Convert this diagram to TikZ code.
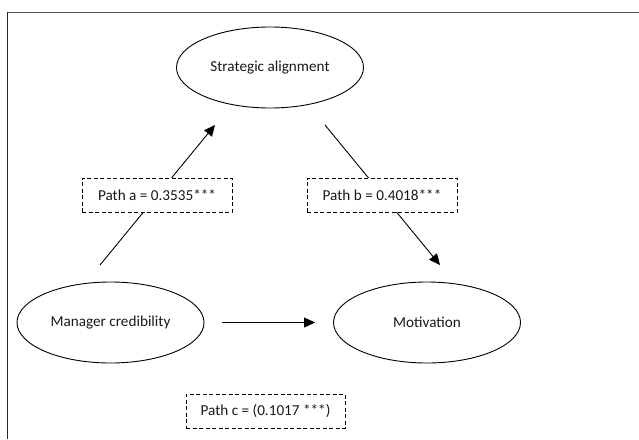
\documentclass[tikz,border=0pt]{standalone}
\usepackage{fontspec}
\setmainfont{Carlito}
\usetikzlibrary{shapes.geometric,arrows.meta}
\begin{document}
\begin{tikzpicture}[x=1pt,y=-1pt,
  ell/.style={draw,line width=0.9pt,ellipse,minimum width=187pt,minimum height=81pt,inner sep=0pt,font=\fontsize{15.2}{17}\selectfont,text=black!90},
  lbl/.style={draw,dashed,dash pattern=on 4pt off 2.5pt,line width=0.9pt,fill=white,minimum width=150pt,minimum height=34pt,inner sep=0pt,font=\fontsize{15.2}{17}\selectfont,text=black!90},
  arr/.style={line width=0.9pt,-{Triangle[length=11pt,width=10pt]}}]
\useasboundingbox (0,0) rectangle (639,439);
\draw[line width=1.2pt,black!65] (7,12.5) -- (639,12.5);
\draw[line width=1.2pt,black!85] (7.5,12) -- (7.5,439);
\node[ell] (sa) at (270,67.5) {Strategic alignment};
\node[ell] (mc) at (110.5,322.5) {Manager credibility};
\node[ell] (mo) at (427,322.5) {Motivation};
\coordinate (a0) at (100,265);
\coordinate (a1) at (215,125);
\coordinate (b0) at (325,125);
\coordinate (b1) at (440,265);
\draw[arr] (a0) -- (a1);
\draw[arr] (b0) -- (b1);
\draw[arr] (mc.east) ++(18,0) coordinate (c0) (c0) -- ([xshift=-18pt]mo.west);
\node[lbl] (pa) at (157,195) {Path a = 0.3535***};
\node[lbl] (pb) at (382,195) {Path b = 0.4018***};
\node[lbl,minimum width=159pt] (pc) at (265.5,411) {Path c = (0.1017 ***)};
\end{tikzpicture}
\end{document}
